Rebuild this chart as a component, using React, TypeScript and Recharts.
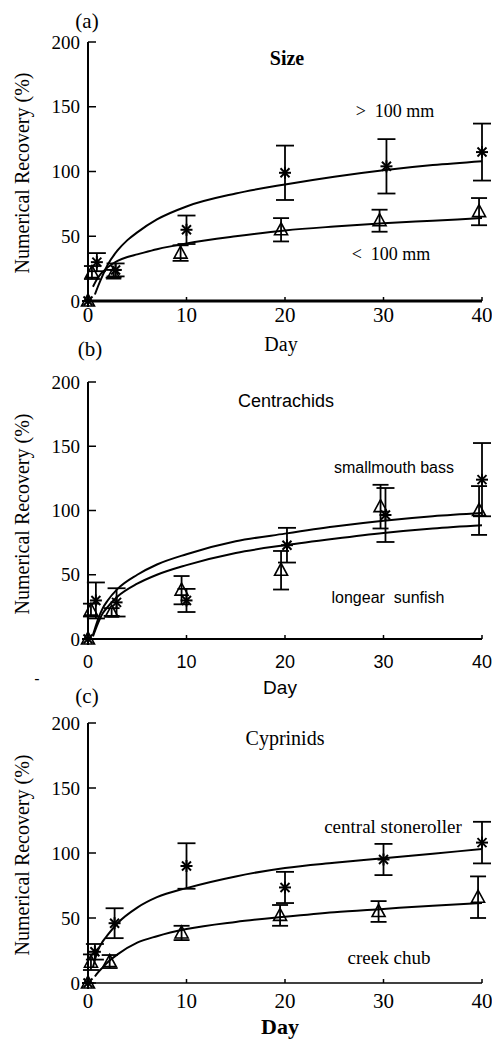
import React from 'react';
import { ComposedChart, Line, Scatter, XAxis, YAxis, ErrorBar, Customized } from 'recharts';

// ---------- Panel (a): Size ----------
const aLargeDays = [0, 0.9, 2.8, 10, 20, 30.3, 40];
const aLargeRec = [0, 30, 24, 55, 99, 104, 115];
const aLargeErr = [0, 7, 5, 11, 21, 21, 22];
const aSmallDays = [0, 0.4, 2.6, 9.4, 19.6, 29.6, 39.7];
const aSmallRec = [0, 22, 21, 37, 55, 62, 69];
const aSmallErr = [0, 5, 3, 6, 9, 8.5, 10.5];
const aLargeFitDays = [0.7, 1, 1.5, 2, 3, 4, 5, 7, 10, 15, 20, 25, 30, 35, 40];
const aLargeFit = [5, 11, 20, 28, 39, 47, 53, 63, 73, 83, 90, 96, 101, 105, 108];
const aSmallFitDays = [0.5, 1, 2, 3, 4, 5, 7, 10, 15, 20, 25, 30, 35, 40];
const aSmallFit = [11, 18, 26, 31, 34, 36, 40, 44.5, 50, 54.5, 57.5, 60, 62, 64];

// ---------- Panel (b): Centrachids ----------
const bBassDays = [0, 0.8, 2.9, 10, 20.2, 30.2, 40];
const bBassRec = [0, 30, 28.5, 30, 73, 96.5, 124];
const bBassErr = [0, 14, 11, 9, 13.5, 21, 28.5];
const bSunDays = [0, 0.3, 2.4, 9.5, 19.6, 29.7, 39.7];
const bSunRec = [0, 22.5, 21, 38, 53.5, 103, 100];
const bSunErr = [0, 5, 3, 11, 15, 17, 19];
const bBassFitDays = [0.5, 1, 1.5, 2, 3, 5, 7, 10, 15, 20, 25, 30, 35, 40];
const bBassFit = [3, 15, 24, 30, 39, 50, 58, 66, 76, 82, 87.5, 92, 95.5, 98];
const bSunFitDays = [0.5, 1, 1.5, 2, 3, 5, 7, 10, 15, 20, 25, 30, 35, 40];
const bSunFit = [2, 12, 20, 25, 33, 43, 50, 57.5, 67, 73, 78, 82.5, 86, 88.5];

// ---------- Panel (c): Cyprinids ----------
const cStoneDays = [0, 0.7, 2.7, 10, 20, 30, 40];
const cStoneRec = [0, 24, 46, 90, 73.5, 95, 108];
const cStoneErr = [0, 6, 11.5, 17.5, 12, 12, 16];
const cChubDays = [0, 0.3, 2.2, 9.5, 19.5, 29.5, 39.6];
const cChubRec = [0, 16, 16.5, 38.5, 52, 55, 66];
const cChubErr = [0, 6, 5, 5.5, 8, 8, 16];
const cStoneFitDays = [0.5, 1, 1.5, 2, 3, 5, 7, 10, 15, 20, 25, 30, 35, 40];
const cStoneFit = [12, 25, 32, 37, 46, 58, 66, 73, 82, 88.5, 92.5, 96, 99.5, 103];
const cChubFitDays = [0.7, 1, 1.5, 2, 3, 5, 7, 10, 15, 20, 25, 30, 35, 40];
const cChubFit = [5, 8, 12, 16, 22, 31, 36, 41.5, 47, 51, 54.5, 57, 59.5, 61.5];

const xTicks = [0, 10, 20, 30, 40];
const yTicks = [0, 50, 100, 150, 200];

const SERIF = "'Liberation Serif', 'DejaVu Serif', serif";
const SANS = "'Liberation Sans', Arial, sans-serif";

type Pt = { x: number; y: number; e?: number };
const zip = (xs: number[], ys: number[], es: number[]): Pt[] =>
  xs.map((x, i) => ({ x, y: ys[i], e: es[i] }));
const zipLine = (xs: number[], ys: number[]): Pt[] => xs.map((x, i) => ({ x, y: ys[i] }));

const Asterisk = (p: any) => {
  const { cx, cy } = p;
  if (cx == null || cy == null) return null;
  const r = 6;
  const d = r * 0.75;
  return (
    <g stroke="#000" strokeWidth={2}>
      <line x1={cx - r} y1={cy} x2={cx + r} y2={cy} />
      <line x1={cx} y1={cy - r} x2={cx} y2={cy + r} />
      <line x1={cx - d} y1={cy - d} x2={cx + d} y2={cy + d} />
      <line x1={cx - d} y1={cy + d} x2={cx + d} y2={cy - d} />
    </g>
  );
};

const Triangle = (p: any) => {
  const { cx, cy } = p;
  if (cx == null || cy == null) return null;
  return (
    <polygon
      points={`${cx},${cy - 7} ${cx - 6.5},${cy + 5} ${cx + 6.5},${cy + 5}`}
      fill="none"
      stroke="#000"
      strokeWidth={1.6}
    />
  );
};

type TextItem = {
  t: string;
  x: number;
  y: number;
  size: number;
  font: string;
  weight?: string;
  rotate?: boolean;
};

type PanelProps = {
  top: number;
  height: number;
  marginTop: number;
  xAxisHeight: number;
  xTickMargin: number;
  xAxisWidth: number;
  xTickFont: string;
  xTickSize: number;
  xTickWeight?: string;
  star: Pt[];
  tri: Pt[];
  starFit: Pt[];
  triFit: Pt[];
  texts: TextItem[];
};

const Panel = (props: PanelProps) => {
  const {
    top, height, marginTop, xAxisHeight, xTickMargin, xAxisWidth, xTickFont, xTickSize, xTickWeight,
    star, tri, starFit, triFit, texts,
  } = props;
  // texts are given in page coordinates; convert to chart-local
  const Texts = () => (
    <g>
      {texts.map((t, i) => {
        const ly = t.y - top;
        return (
          <text
            key={i}
            x={t.x}
            y={ly}
            textAnchor="middle"
            fontFamily={t.font}
            fontSize={t.size}
            fontWeight={t.weight || 'normal'}
            fill="#000"
            style={{ whiteSpace: 'pre' }}
            transform={t.rotate ? `rotate(-90 ${t.x} ${ly})` : undefined}
          >
            {t.t}
          </text>
        );
      })}
    </g>
  );
  return (
    <div style={{ position: 'absolute', left: 0, top, width: 492, height }}>
      <ComposedChart width={492} height={height} margin={{ top: marginTop, right: 10, left: 0, bottom: 0 }}>
        <XAxis
          type="number"
          dataKey="x"
          domain={[0, 40]}
          ticks={xTicks}
          interval={0}
          height={xAxisHeight}
          tickSize={-4}
          tickMargin={xTickMargin}
          axisLine={{ stroke: '#000', strokeWidth: xAxisWidth }}
          tickLine={{ stroke: '#000', strokeWidth: 1.5 }}
          tick={{ fill: '#000', fontFamily: xTickFont, fontSize: xTickSize, fontWeight: xTickWeight || 'normal' }}
        />
        <YAxis
          type="number"
          dataKey="y"
          domain={[0, 200]}
          ticks={yTicks}
          interval={0}
          width={88}
          tickSize={-8}
          tickMargin={16}
          axisLine={{ stroke: '#000', strokeWidth: 2 }}
          tickLine={{ stroke: '#000', strokeWidth: 1.5 }}
          tick={{ fill: '#000', fontFamily: SERIF, fontSize: 19 }}
        />
        <Line data={starFit} dataKey="y" type="monotone" dot={false} stroke="#000" strokeWidth={2} isAnimationActive={false} />
        <Line data={triFit} dataKey="y" type="monotone" dot={false} stroke="#000" strokeWidth={2} isAnimationActive={false} />
        <Scatter data={tri} dataKey="y" shape={(p: any) => <Triangle {...p} />} isAnimationActive={false}>
          <ErrorBar dataKey="e" direction="y" width={8} stroke="#000" strokeWidth={1.8} />
        </Scatter>
        <Scatter data={star} dataKey="y" shape={(p: any) => <Asterisk {...p} />} isAnimationActive={false}>
          <ErrorBar dataKey="e" direction="y" width={9} stroke="#000" strokeWidth={1.8} />
        </Scatter>
        <Customized component={Texts} />
      </ComposedChart>
    </div>
  );
};

const yLabel = 'Numerical Recovery (%)';

export default function App() {
  return (
    <div style={{ position: 'absolute', left: 0, top: 0, width: 492, height: 1041, background: '#fff', overflow: 'hidden' }}>
      <Panel
        top={0}
        height={360}
        marginTop={42}
        xAxisHeight={59}
        xTickMargin={10}
        xAxisWidth={3}
        xTickFont={SERIF}
        xTickSize={21}
        star={zip(aLargeDays, aLargeRec, aLargeErr)}
        tri={zip(aSmallDays, aSmallRec, aSmallErr)}
        starFit={zipLine(aLargeFitDays, aLargeFit)}
        triFit={zipLine(aSmallFitDays, aSmallFit)}
        texts={[
          { t: '(a)', x: 87, y: 28, size: 21, font: SERIF },
          { t: 'Size', x: 287, y: 65, size: 20, font: SERIF, weight: 'bold' },
          { t: '>  100 mm', x: 395, y: 117, size: 18, font: SERIF },
          { t: '<  100 mm', x: 391, y: 260, size: 18, font: SERIF },
          { t: 'Day', x: 281, y: 351, size: 20, font: SERIF },
          { t: yLabel, x: 29, y: 173, size: 20, font: SERIF, rotate: true },
        ]}
      />
      <Panel
        top={320}
        height={380}
        marginTop={62}
        xAxisHeight={61}
        xTickMargin={20}
        xAxisWidth={2}
        xTickFont={SANS}
        xTickSize={18}
        star={zip(bBassDays, bBassRec, bBassErr)}
        tri={zip(bSunDays, bSunRec, bSunErr)}
        starFit={zipLine(bBassFitDays, bBassFit)}
        triFit={zipLine(bSunFitDays, bSunFit)}
        texts={[
          { t: '(b)', x: 90, y: 356, size: 21, font: SERIF },
          { t: 'Centrachids', x: 286, y: 407, size: 18, font: SANS },
          { t: 'smallmouth bass', x: 394, y: 473, size: 16, font: SANS },
          { t: 'longear  sunfish', x: 388, y: 603, size: 16, font: SANS },
          { t: 'Day', x: 280, y: 694, size: 19, font: SANS },
          { t: '-', x: 37, y: 684, size: 16, font: SANS },
          { t: yLabel, x: 29, y: 514, size: 20, font: SERIF, rotate: true },
        ]}
      />
      <Panel
        top={661}
        height={380}
        marginTop={62}
        xAxisHeight={58}
        xTickMargin={14}
        xAxisWidth={1.5}
        xTickFont={SERIF}
        xTickSize={21}
        star={zip(cStoneDays, cStoneRec, cStoneErr)}
        tri={zip(cChubDays, cChubRec, cChubErr)}
        starFit={zipLine(cStoneFitDays, cStoneFit)}
        triFit={zipLine(cChubFitDays, cChubFit)}
        texts={[
          { t: '(c)', x: 87, y: 703, size: 21, font: SERIF },
          { t: 'Cyprinids', x: 285, y: 745, size: 20, font: SERIF },
          { t: 'central stoneroller', x: 393, y: 833, size: 19, font: SERIF },
          { t: 'creek chub', x: 389, y: 964, size: 19, font: SERIF },
          { t: 'Day', x: 280, y: 1034, size: 22, font: SERIF, weight: 'bold' },
          { t: yLabel, x: 29, y: 855, size: 20, font: SERIF, rotate: true },
        ]}
      />
    </div>
  );
}
